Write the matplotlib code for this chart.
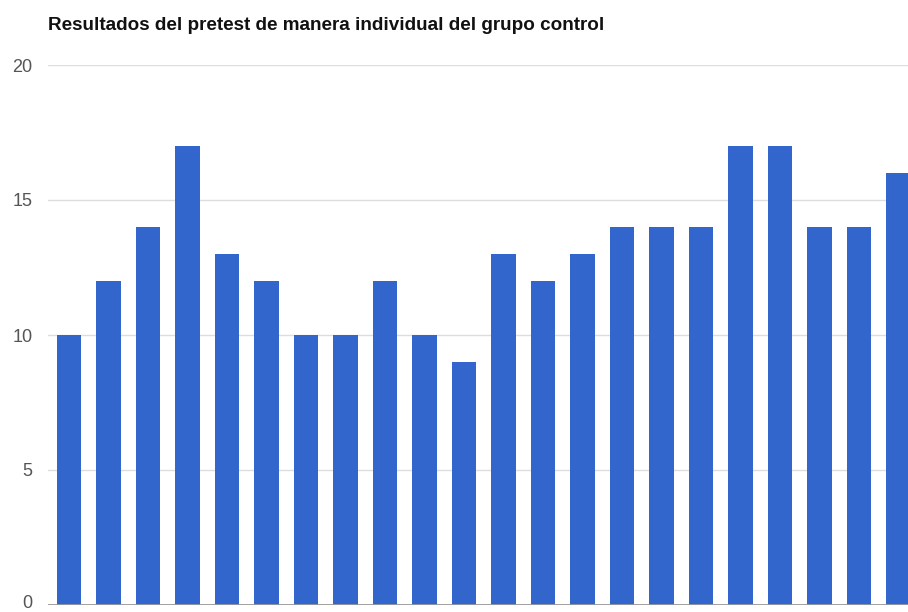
import matplotlib
matplotlib.use("Agg")
import matplotlib.pyplot as plt
import matplotlib.transforms as mtransforms
import numpy as np

# puntajes del pretest, un estudiante por barra
estudiantes = np.arange(22)
puntajes = [10, 12, 14, 17, 13, 12, 10, 10, 12, 10, 9,
            13, 12, 13, 14, 14, 14, 17, 17, 14, 14, 16]
ticks_y = [0, 5, 10, 15, 20]

plt.rcParams['font.family'] = ['Liberation Sans', 'DejaVu Sans']

fig = plt.figure(figsize=(9.08, 6.12), dpi=100)
ax = fig.add_axes([48 / 908, 7 / 612, 1 - 48 / 908, 540 / 612])

ax.bar(estudiantes, puntajes, width=0.61, color='#3366cc', zorder=3)

ax.set_xlim(-0.532, 21.24)
ax.set_ylim(0, 20)
ax.set_yticks(ticks_y)
ax.set_yticklabels([str(t) for t in ticks_y], color='#555555', fontsize=13)
ax.set_xticks([])
ax.tick_params(axis='y', length=0, pad=11)
ax.grid(axis='y', color='#dddddd', linewidth=1, zorder=0)
ax.axhline(0, color='#999999', linewidth=2, zorder=4)
for s in ax.spines.values():
    s.set_visible(False)

# subir un poco la etiqueta del 0 para que no quede cortada por el borde
etiqueta_cero = ax.get_yticklabels()[0]
etiqueta_cero.set_transform(etiqueta_cero.get_transform() +
                            mtransforms.ScaledTranslation(0, 4 / 100, fig.dpi_scale_trans))

fig.text(48 / 908, 1 - 25 / 612, 'Resultados del pretest de manera individual del grupo control',
         fontsize=13.6, fontweight='bold', color='#111111', va='center', ha='left')

fig.savefig('out.png', dpi=100)
